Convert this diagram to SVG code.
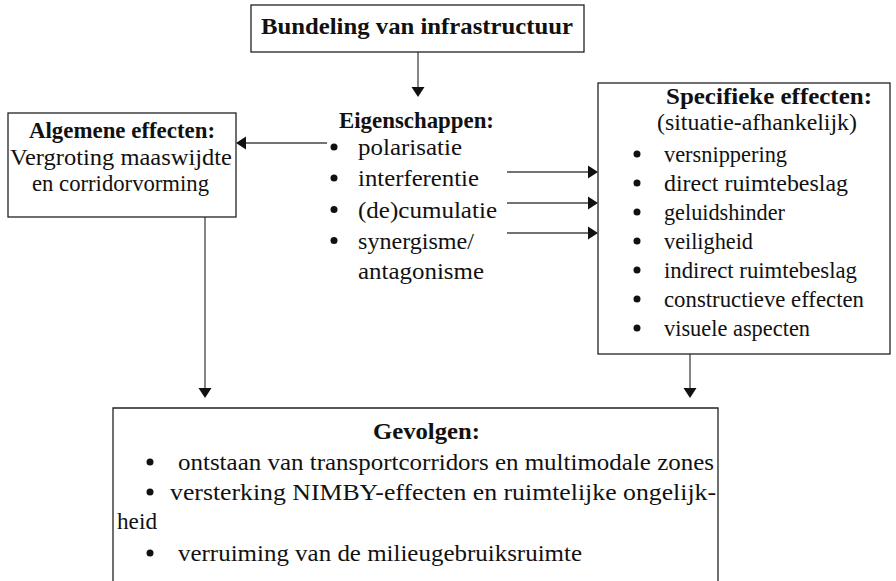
<svg xmlns="http://www.w3.org/2000/svg" width="896" height="581" viewBox="0 0 896 581">
  <style>
    .box { fill: #fff; stroke: #222; stroke-width: 1.3; }
    .t { font-family: "Liberation Serif", "Times New Roman", serif; font-size: 23.5px; fill: #111; }
    .s { font-size: 22.5px; }
    .b { font-weight: bold; }
    .dot { fill: #111; }
    .wire { stroke: #444; stroke-width: 1.3; fill: none; }
    .head { fill: #111; }
  </style>
  <rect width="896" height="581" fill="#fff"/>

  <!-- arrows between the blocks -->
  <g id="connectors">
    <line class="wire" x1="418" y1="52" x2="418" y2="88"/>
    <polygon class="head" points="411.5,87 424.5,87 418,97"/>
    <line class="wire" x1="327" y1="143" x2="245" y2="143"/>
    <polygon class="head" points="246,136.5 246,149.5 236,143"/>
    <line class="wire" x1="507" y1="172" x2="589" y2="172"/>
    <polygon class="head" points="588,165.5 588,178.5 598,172"/>
    <line class="wire" x1="507" y1="203" x2="589" y2="203"/>
    <polygon class="head" points="588,196.5 588,209.5 598,203"/>
    <line class="wire" x1="507" y1="233" x2="589" y2="233"/>
    <polygon class="head" points="588,226.5 588,239.5 598,233"/>
    <line class="wire" x1="205" y1="217" x2="205" y2="389"/>
    <polygon class="head" points="198.5,388 211.5,388 205,398"/>
    <line class="wire" x1="690" y1="354" x2="690" y2="389"/>
    <polygon class="head" points="683.5,388 696.5,388 690,398"/>
  </g>

  <g id="bundeling">
    <rect class="box" x="251" y="5" width="333" height="47"/>
    <text class="t b" x="261" y="34" textLength="312" lengthAdjust="spacingAndGlyphs">Bundeling van infrastructuur</text>
  </g>

  <g id="eigenschappen">
    <text class="t b" x="339" y="128" textLength="155" lengthAdjust="spacingAndGlyphs">Eigenschappen:</text>
    <circle class="dot" cx="334" cy="147" r="3.5"/>
    <text class="t" x="358" y="155" textLength="104" lengthAdjust="spacingAndGlyphs">polarisatie</text>
    <circle class="dot" cx="334" cy="178" r="3.5"/>
    <text class="t" x="358" y="186" textLength="121" lengthAdjust="spacingAndGlyphs">interferentie</text>
    <circle class="dot" cx="334" cy="209.5" r="3.5"/>
    <text class="t" x="358" y="217.5" textLength="139" lengthAdjust="spacingAndGlyphs">(de)cumulatie</text>
    <circle class="dot" cx="334" cy="240.5" r="3.5"/>
    <text class="t" x="358" y="248.5" textLength="116" lengthAdjust="spacingAndGlyphs">synergisme/</text>
    <text class="t" x="358" y="279" textLength="126" lengthAdjust="spacingAndGlyphs">antagonisme</text>
  </g>

  <g id="algemene-effecten">
    <rect class="box" x="8" y="113" width="228" height="104"/>
    <text class="t b" x="29" y="138" textLength="186" lengthAdjust="spacingAndGlyphs">Algemene effecten:</text>
    <text class="t" x="10" y="165" textLength="222" lengthAdjust="spacingAndGlyphs">Vergroting maaswijdte</text>
    <text class="t" x="32" y="191" textLength="177" lengthAdjust="spacingAndGlyphs">en corridorvorming</text>
  </g>

  <g id="specifieke-effecten">
    <rect class="box" x="598" y="83" width="292" height="271"/>
    <text class="t b" x="666" y="104" textLength="206" lengthAdjust="spacingAndGlyphs">Specifieke effecten:</text>
    <text class="t" x="657" y="130" textLength="200" lengthAdjust="spacingAndGlyphs">(situatie-afhankelijk)</text>
    <circle class="dot" cx="637" cy="154" r="3.5"/>
    <text class="t s" x="664" y="162" textLength="123" lengthAdjust="spacingAndGlyphs">versnippering</text>
    <circle class="dot" cx="637" cy="183" r="3.5"/>
    <text class="t s" x="664" y="191" textLength="184" lengthAdjust="spacingAndGlyphs">direct ruimtebeslag</text>
    <circle class="dot" cx="637" cy="212" r="3.5"/>
    <text class="t s" x="664" y="220" textLength="121" lengthAdjust="spacingAndGlyphs">geluidshinder</text>
    <circle class="dot" cx="637" cy="241" r="3.5"/>
    <text class="t s" x="664" y="249" textLength="89" lengthAdjust="spacingAndGlyphs">veiligheid</text>
    <circle class="dot" cx="637" cy="270" r="3.5"/>
    <text class="t s" x="664" y="278" textLength="193" lengthAdjust="spacingAndGlyphs">indirect ruimtebeslag</text>
    <circle class="dot" cx="637" cy="299" r="3.5"/>
    <text class="t s" x="664" y="307" textLength="200" lengthAdjust="spacingAndGlyphs">constructieve effecten</text>
    <circle class="dot" cx="637" cy="328" r="3.5"/>
    <text class="t s" x="664" y="336" textLength="146" lengthAdjust="spacingAndGlyphs">visuele aspecten</text>
  </g>

  <!-- open at the bottom: the frame runs past the lower edge -->
  <g id="gevolgen">
    <path class="box" d="M113,590 V408 H718 V590"/>
    <text class="t b" x="373" y="439" textLength="107" lengthAdjust="spacingAndGlyphs">Gevolgen:</text>
    <circle class="dot" cx="150" cy="462" r="3.5"/>
    <text class="t" x="178" y="470" textLength="536" lengthAdjust="spacingAndGlyphs">ontstaan van transportcorridors en multimodale zones</text>
    <circle class="dot" cx="150" cy="492" r="3.5"/>
    <text class="t" x="170" y="500" textLength="546" lengthAdjust="spacingAndGlyphs">versterking NIMBY-effecten en ruimtelijke ongelijk-</text>
    <text class="t" x="117" y="529" textLength="40" lengthAdjust="spacingAndGlyphs">heid</text>
    <circle class="dot" cx="150" cy="553" r="3.5"/>
    <text class="t" x="178" y="561" textLength="404" lengthAdjust="spacingAndGlyphs">verruiming van de milieugebruiksruimte</text>
  </g>
</svg>
